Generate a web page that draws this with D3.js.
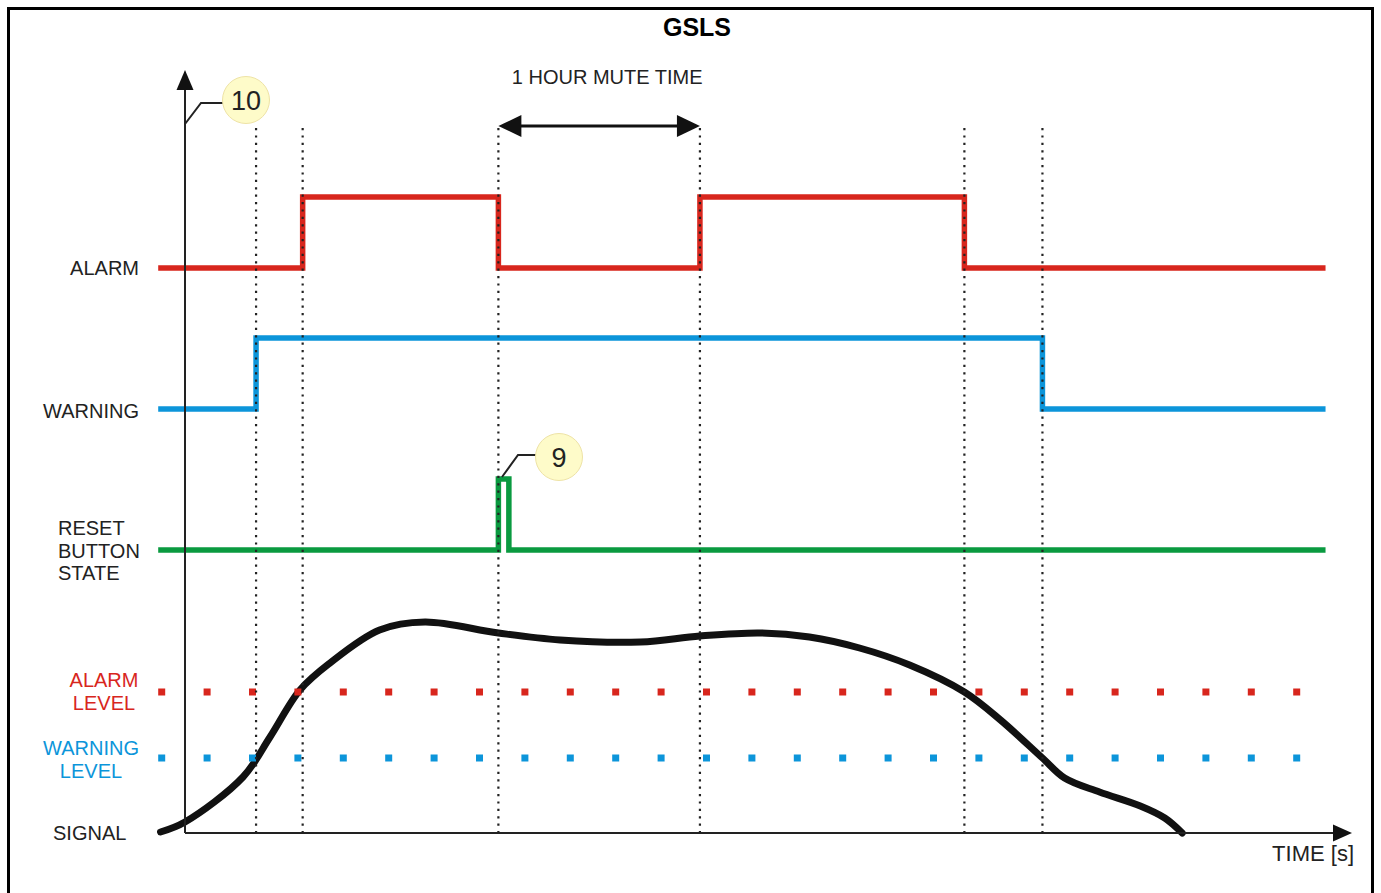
<!DOCTYPE html>
<html>
<head>
<meta charset="utf-8">
<script src="https://cdn.jsdelivr.net/npm/d3@7"></script>
<style>
  body { margin: 0; background: #fff; }
  text { font-family: "Liberation Sans", Arial, sans-serif; fill: #222; }
</style>
</head>
<body>
<script>
var width = 1381;
var height = 893;

// time moments (s) where something happens: the dotted guides
var guideTimes = [6.1, 10.1, 26.9, 44.2, 66.9, 73.6];

// state traces as (time, state) steps
var alarmSteps   = [[-2.3, 0], [10.1, 1], [26.9, 0], [44.2, 1], [66.9, 0], [97.9, 0]];
var warningSteps = [[-2.3, 0], [6.1, 1], [73.6, 0], [97.9, 0]];
var resetSteps   = [[-2.3, 0], [26.9, 1], [27.8, 0], [97.9, 0]];
var traceNames   = ['ALARM', 'WARNING', 'RESET'];

// the analog signal (time, value)
var signal = [
  [-2.1, 0.4], [0, 4.4], [4.98, 22.4], [7.3, 38.4], [9.87, 57.2],
  [12.45, 68], [16.7, 81.2], [20.6, 84.4], [26.9, 80], [32.2, 77.2],
  [39.1, 76.4], [44.2, 78.8], [49.4, 80], [53.6, 78.4], [57.9, 74],
  [62.2, 67.2], [66.9, 56.4], [70.0, 45.2], [73.6, 30], [75.5, 22],
  [78.5, 16.4], [82, 10.8], [84.1, 6], [85.6, 0]
];
var alarmLevel = 56.4;
var warningLevel = 30;
var levelSpan = [-2.0, 95.9];

var muteWindow = [26.9, 44.2];

var RED = '#d8261d', BLUE = '#0c95da', GREEN = '#0a9a40';

var svg = d3.select('body').append('svg')
  .attr('width', width).attr('height', height);

var x = d3.scaleLinear().domain([0, 100]).range([185, 1350]);
var ySig = d3.scaleLinear().domain([0, 100]).range([833, 583]);
var yTrace = d3.scalePoint().domain(traceNames).range([268, 550]);
var yState = d3.scaleLinear().domain([0, 1]).range([0, -71]);

// frame
svg.append('rect')
  .attr('x', 8.5).attr('y', 8.5).attr('width', 1364).attr('height', 920)
  .attr('fill', 'none').attr('stroke', '#000').attr('stroke-width', 3);

svg.append('text').attr('x', 697).attr('y', 36)
  .attr('text-anchor', 'middle').style('font-weight', 'bold').style('font-size', '25px')
  .style('fill', '#000').text('GSLS');

// traces
var stepLine = function(name){
  return d3.line()
    .x(function(d){ return x(d[0]); })
    .y(function(d){ return yTrace(name) + yState(d[1]); })
    .curve(d3.curveStepAfter);
};
[[alarmSteps, 'ALARM', RED], [warningSteps, 'WARNING', BLUE], [resetSteps, 'RESET', GREEN]]
  .forEach(function(t){
    svg.append('path').attr('d', stepLine(t[1])(t[0]))
      .attr('fill', 'none').attr('stroke', t[2]).attr('stroke-width', 5.5);
  });

// signal curve
var sigLine = d3.line()
  .x(function(d){ return x(d[0]); })
  .y(function(d){ return ySig(d[1]); })
  .curve(d3.curveCatmullRom.alpha(0.5));
svg.append('path').attr('d', sigLine(signal))
  .attr('fill', 'none').attr('stroke', '#111').attr('stroke-width', 7)
  .attr('stroke-linecap', 'round');

// level markers, square dots
[[alarmLevel, RED], [warningLevel, BLUE]].forEach(function(l){
  svg.append('line')
    .attr('x1', x(levelSpan[0]) - 3.5).attr('x2', x(levelSpan[1]) + 4)
    .attr('y1', ySig(l[0])).attr('y2', ySig(l[0]))
    .attr('stroke', l[1]).attr('stroke-width', 7)
    .attr('stroke-dasharray', '7,38.4');
});

// dotted guides
svg.selectAll('.guide').data(guideTimes).enter().append('line')
  .attr('class', 'guide')
  .attr('x1', function(d){ return x(d); }).attr('x2', function(d){ return x(d); })
  .attr('y1', 128).attr('y2', 833)
  .attr('stroke', '#222').attr('stroke-width', 2.2)
  .attr('stroke-dasharray', '2.2,5.2');

// axes with arrows
svg.append('line').attr('x1', x(0)).attr('x2', x(0)).attr('y1', 833).attr('y2', 86)
  .attr('stroke', '#222').attr('stroke-width', 2);
svg.append('path').attr('d', 'M' + x(0) + ',70 l-8.5,20 h17 z').attr('fill', '#111');
svg.append('line').attr('x1', x(0)).attr('x2', 1336).attr('y1', 833).attr('y2', 833)
  .attr('stroke', '#222').attr('stroke-width', 2);
svg.append('path').attr('d', 'M1352,833 l-19,-8.5 v17 z').attr('fill', '#111');

// mute time arrow
var mx0 = x(muteWindow[0]), mx1 = x(muteWindow[1]);
svg.append('line').attr('x1', mx0 + 10).attr('x2', mx1 - 10).attr('y1', 126).attr('y2', 126)
  .attr('stroke', '#111').attr('stroke-width', 3);
svg.append('path').attr('d', 'M' + mx0 + ',126 l23,-11 v22 z').attr('fill', '#111');
svg.append('path').attr('d', 'M' + mx1 + ',126 l-23,-11 v22 z').attr('fill', '#111');
svg.append('text').attr('x', (mx0 + mx1) / 2 + 8).attr('y', 84)
  .attr('text-anchor', 'middle').style('font-size', '20px').text('1 HOUR MUTE TIME');

// labels
var label = function(txt, px, py, anchor, color, size){
  svg.append('text').attr('x', px).attr('y', py).attr('text-anchor', anchor)
    .style('font-size', (size || 20) + 'px').style('fill', color || '#222').text(txt);
};
label('ALARM', 139, yTrace('ALARM') + 7, 'end');
label('WARNING', 139, yTrace('WARNING') + 9, 'end');
label('RESET', 58, 535, 'start');
label('BUTTON', 58, 558, 'start');
label('STATE', 58, 580, 'start');
label('ALARM', 104, 687, 'middle', RED);
label('LEVEL', 104, 710, 'middle', RED);
label('WARNING', 91, 755, 'middle', BLUE);
label('LEVEL', 91, 778, 'middle', BLUE);
label('SIGNAL', 53, 840, 'start');
label('TIME [s]', 1354, 861, 'end', '#222', 22);

// callouts
var callout = function(txt, cx, cy, pts){
  svg.append('path').attr('d', d3.line()(pts))
    .attr('fill', 'none').attr('stroke', '#222').attr('stroke-width', 2);
  svg.append('circle').attr('cx', cx).attr('cy', cy).attr('r', 23.5)
    .attr('fill', '#fefbc9').attr('stroke', '#eee3a6').attr('stroke-width', 1);
  svg.append('text').attr('x', cx).attr('y', cy + 10).attr('text-anchor', 'middle')
    .style('font-size', '27px').text(txt);
};
callout('10', 246, 100, [[x(0), 124], [201, 103], [224, 103]]);
callout('9', 559, 457, [[502, 477], [518, 455], [537, 455]]);
</script>
</body>
</html>
